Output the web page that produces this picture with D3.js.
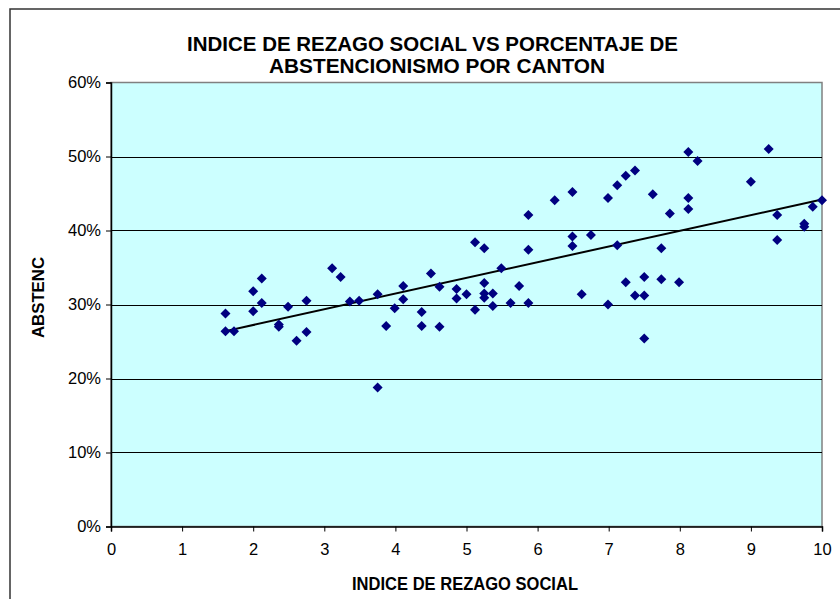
<!DOCTYPE html>
<html>
<head>
<meta charset="utf-8">
<script src="https://cdn.jsdelivr.net/npm/d3@7"></script>
<style>
  html, body { margin: 0; padding: 0; background: #fff; }
  svg { display: block; font-family: "Liberation Sans", Arial, sans-serif; }
</style>
</head>
<body>
<svg id="chart" width="840" height="599"></svg>
<script>
// ---- data ----
const rezago = [1.61,1.61,1.73,2.00,2.00,2.12,2.12,2.36,2.36,2.49,2.61,2.75,2.75,3.11,3.23,3.36,3.49,3.75,3.75,3.87,
  3.99,4.11,4.11,4.37,4.37,4.50,4.62,4.62,4.86,4.86,5.00,5.12,5.12,5.25,5.25,5.25,5.25,5.37,5.37,5.49,
  5.62,5.74,5.87,5.87,5.87,6.24,6.49,6.49,6.49,6.62,6.75,6.99,6.99,7.12,7.12,7.24,7.24,7.37,7.37,7.50,
  7.50,7.50,7.62,7.74,7.74,7.86,7.99,8.12,8.25,8.12,8.12,9.00,9.25,9.37,9.37,9.75,9.75,9.87,10.00];
const abstenc = [0.288,0.264,0.264,0.318,0.291,0.335,0.302,0.273,0.270,0.297,0.251,0.305,0.263,0.349,0.337,0.304,0.305,0.314,0.188,0.271,
  0.295,0.325,0.307,0.290,0.271,0.342,0.324,0.270,0.321,0.308,0.314,0.384,0.293,0.376,0.329,0.315,0.309,0.315,0.298,0.349,
  0.302,0.325,0.421,0.374,0.302,0.441,0.452,0.392,0.379,0.314,0.394,0.444,0.300,0.461,0.380,0.474,0.330,0.481,0.312,0.337,
  0.312,0.254,0.449,0.376,0.334,0.423,0.330,0.506,0.494,0.444,0.429,0.466,0.510,0.421,0.387,0.409,0.405,0.432,0.441];
const trendline = { x0: 1.61, x1: 10, y0: 0.264, y1: 0.442 };
const xTicks = [0,1,2,3,4,5,6,7,8,9,10];
const yTicks = [0,0.1,0.2,0.3,0.4,0.5,0.6];
const titleLines = ["INDICE DE REZAGO SOCIAL VS PORCENTAJE DE", "ABSTENCIONISMO POR CANTON"];
const xTitle = "INDICE DE REZAGO SOCIAL";
const yTitle = "ABSTENC";

// ---- layout ----
const svg = d3.select("#chart");
const L = 111, R = 822, T = 82.5, B = 526.5;
const x = d3.scaleLinear().domain([0, 10]).range([L, R]);
const y = d3.scaleLinear().domain([0, 0.6]).range([B, T]);

// outer chart border
svg.append("rect").attr("x", 10).attr("y", 9).attr("width", 860).attr("height", 620)
  .attr("fill", "#fff").attr("stroke", "#333").attr("stroke-width", 1.5);

// plot area
svg.append("rect").attr("x", L).attr("y", T).attr("width", R - L).attr("height", B - T)
  .attr("fill", "#CCFFFF").attr("stroke", "#808080").attr("stroke-width", 1.5);

// gridlines
svg.append("g").selectAll("line").data(yTicks.filter(d => d > 0 && d < 0.6)).join("line")
  .attr("x1", L).attr("x2", R).attr("y1", d => Math.round(y(d)) + 0.5).attr("y2", d => Math.round(y(d)) + 0.5)
  .attr("stroke", "#000").attr("stroke-width", 1);

// axes
const xAxis = d3.axisBottom(x).tickValues(xTicks).tickSize(5).tickPadding(12).tickFormat(d3.format("d"));
const yAxis = d3.axisLeft(y).tickValues(yTicks).tickSize(5).tickPadding(5).tickFormat(d3.format(".0%"));
const gx = svg.append("g").attr("transform", `translate(0,${B})`).call(xAxis);
const gy = svg.append("g").attr("transform", `translate(${L},0)`).call(yAxis);
[gx, gy].forEach(g => {
  g.select(".domain").attr("stroke", "#000").attr("stroke-width", 1.5);
  g.selectAll(".tick line").attr("stroke", "#000");
  g.selectAll(".tick text").attr("fill", "#000").attr("font-size", 16.5)
    .attr("font-family", "'Liberation Sans', Arial, sans-serif");
});

// trendline
svg.append("line")
  .attr("x1", x(trendline.x0)).attr("y1", y(trendline.y0))
  .attr("x2", x(trendline.x1)).attr("y2", y(trendline.y1))
  .attr("stroke", "#000").attr("stroke-width", 2);

// points
const data = rezago.map((v, i) => ({ x: v, y: abstenc[i] }));
const s = 5;
svg.append("g").selectAll("path").data(data).join("path")
  .attr("transform", d => `translate(${x(d.x)},${y(d.y)})`)
  .attr("d", `M0,${-s}L${s},0L0,${s}L${-s},0Z`)
  .attr("fill", "#000080");

// titles
const titleSpec = [
  { text: titleLines[0], cx: 432.5, base: 50.5, w: 491 },
  { text: titleLines[1], cx: 437, base: 72.5, w: 336 }
];
titleSpec.forEach(t => {
  svg.append("text").attr("x", t.cx).attr("y", t.base).attr("text-anchor", "middle")
    .attr("font-size", 19.5).attr("font-weight", "bold")
    .attr("textLength", t.w).attr("lengthAdjust", "spacingAndGlyphs")
    .text(t.text);
});
svg.append("text").attr("x", 465).attr("y", 589.5).attr("text-anchor", "middle")
  .attr("font-size", 18.5).attr("font-weight", "bold")
  .attr("textLength", 226).attr("lengthAdjust", "spacingAndGlyphs")
  .text(xTitle);
svg.append("text").attr("transform", "translate(44,297.5) rotate(-90)").attr("text-anchor", "middle")
  .attr("font-size", 17).attr("font-weight", "bold")
  .attr("textLength", 81).attr("lengthAdjust", "spacingAndGlyphs")
  .text(yTitle);
</script>
</body>
</html>
